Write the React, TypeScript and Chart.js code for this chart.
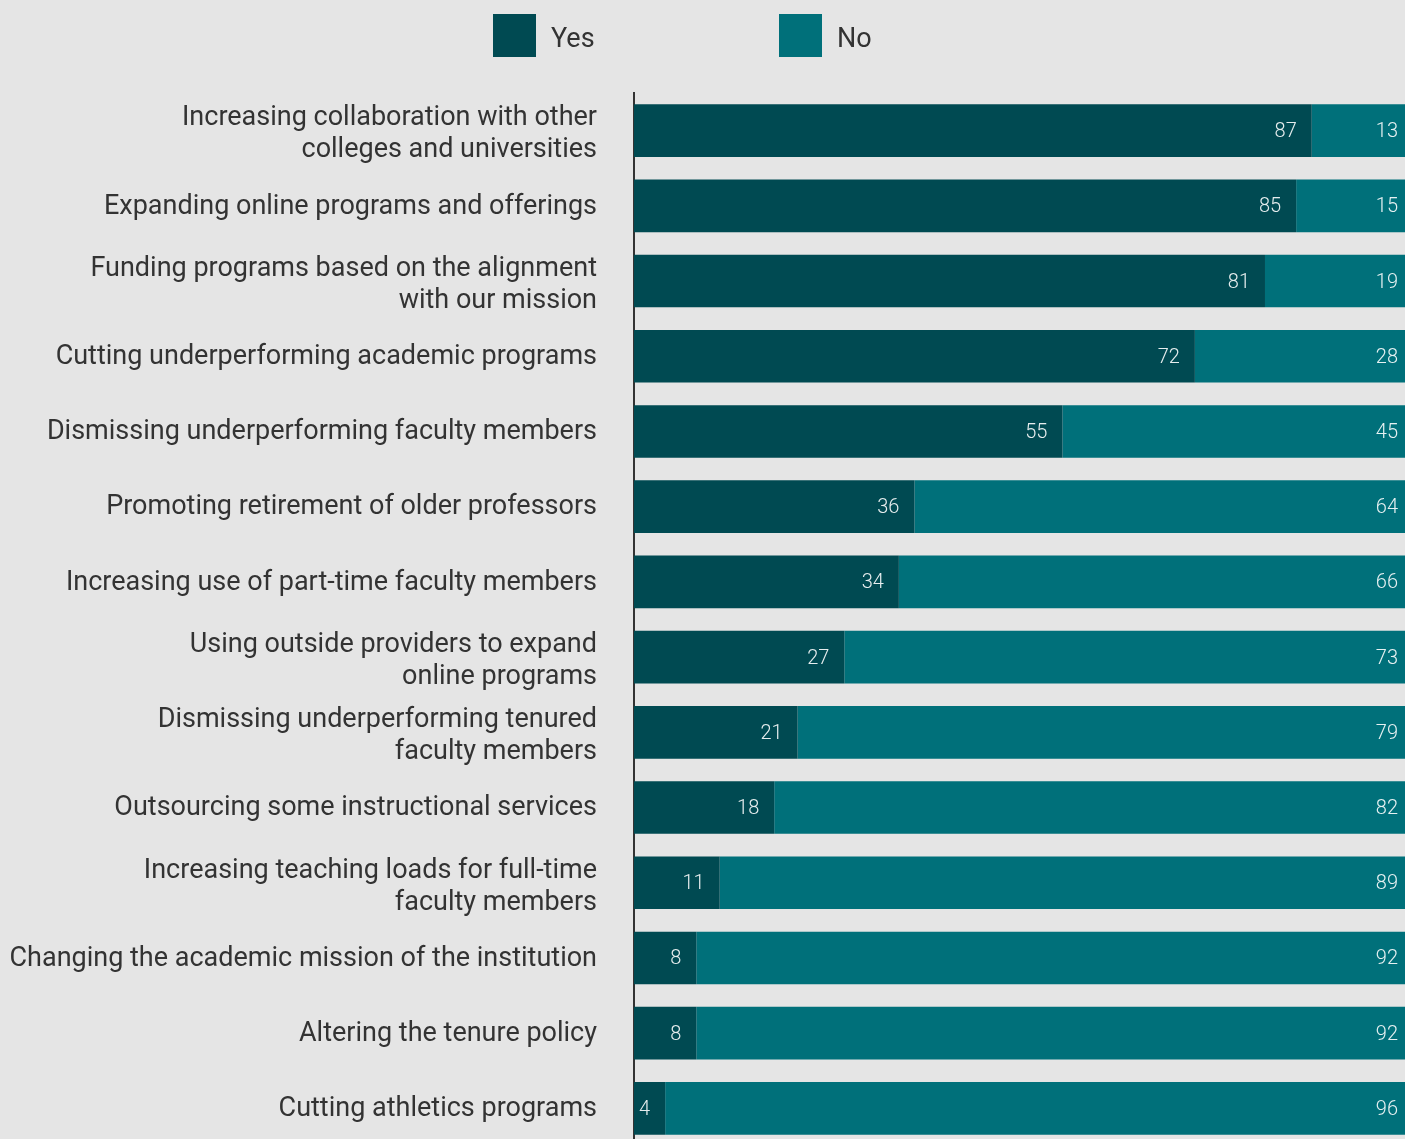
import React, { useEffect, useRef } from "react";
import { Chart, registerables } from "chart.js";

Chart.register(...registerables);

const categories: (string | string[])[] = [
  ["Increasing collaboration with other", "colleges and universities"],
  "Expanding online programs and offerings",
  ["Funding programs based on the alignment", "with our mission"],
  "Cutting underperforming academic programs",
  "Dismissing underperforming faculty members",
  "Promoting retirement of older professors",
  "Increasing use of part-time faculty members",
  ["Using outside providers to expand", "online programs"],
  ["Dismissing underperforming tenured", "faculty members"],
  "Outsourcing some instructional services",
  ["Increasing teaching loads for full-time", "faculty members"],
  "Changing the academic mission of the institution",
  "Altering the tenure policy",
  "Cutting athletics programs",
];

const yesValues = [87, 85, 81, 72, 55, 36, 34, 27, 21, 18, 11, 8, 8, 4];
const noValues = [13, 15, 19, 28, 45, 64, 66, 73, 79, 82, 89, 92, 92, 96];

const seriesNames = ["Yes", "No"];
const seriesColors = ["#004a52", "#00707a"];

const LABEL_PAD = 37;
const LABEL_LINE = 32;

const valueLabelPlugin = {
  id: "valueLabels",
  afterDatasetsDraw(chart: any) {
    const ctx = chart.ctx;
    ctx.save();
    ctx.font = "300 20px Roboto";
    ctx.fillStyle = "rgba(255,255,255,0.9)";
    ctx.textAlign = "right";
    ctx.textBaseline = "middle";
    chart.data.datasets.forEach((ds: any, di: number) => {
      const meta = chart.getDatasetMeta(di);
      meta.data.forEach((el: any, i: number) => {
        ctx.fillText(String(ds.data[i]), el.x - 15, el.y + 1.5);
      });
    });
    ctx.restore();
  },
};

const categoryLabelPlugin = {
  id: "categoryLabels",
  afterDraw(chart: any) {
    const scale = chart.scales.y;
    const ctx = chart.ctx;
    ctx.save();
    ctx.font = "27px Roboto";
    ctx.fillStyle = "#333333";
    ctx.textAlign = "right";
    ctx.textBaseline = "middle";
    categories.forEach((lab, i) => {
      const lines = Array.isArray(lab) ? lab : [lab];
      const n = lines.length;
      const cy = scale.getPixelForTick(i) + 1 + (n - 1) * 3;
      lines.forEach((line, j) => {
        ctx.fillText(line, scale.right - LABEL_PAD, cy + (j - (n - 1) / 2) * LABEL_LINE);
      });
    });
    ctx.restore();
  },
};

export default function App() {
  const ref = useRef<HTMLCanvasElement | null>(null);

  useEffect(() => {
    document.body.style.margin = "0";
    document.body.style.overflow = "hidden";
    document.body.style.background = "#e5e5e5";
    if (!ref.current) return;
    const chart = new Chart(ref.current, {
      type: "bar",
      data: {
        labels: categories,
        datasets: [
          {
            label: seriesNames[0],
            data: yesValues,
            backgroundColor: seriesColors[0],
            borderWidth: 0,
            barPercentage: 0.7,
            categoryPercentage: 1,
          },
          {
            label: seriesNames[1],
            data: noValues,
            backgroundColor: seriesColors[1],
            borderWidth: 0,
            barPercentage: 0.7,
            categoryPercentage: 1,
          },
        ],
      },
      options: {
        indexAxis: "y",
        animation: false,
        responsive: true,
        maintainAspectRatio: false,
        layout: { padding: { top: 93, bottom: 0, left: 0, right: 0 } },
        plugins: {
          legend: { display: false },
          tooltip: { enabled: false },
        },
        scales: {
          x: {
            stacked: true,
            min: 0,
            max: 100,
            display: false,
          },
          y: {
            stacked: true,
            grid: { display: false, drawTicks: false },
            border: { display: true, color: "#333333", width: 2 },
            ticks: {
              color: "rgba(0,0,0,0)",
              padding: LABEL_PAD,
              font: { family: "Roboto", size: 27, lineHeight: 1.185 },
            },
            afterFit(scale: any) {
              scale.width = 634;
              scale.paddingTop = 0;
              scale.paddingBottom = 0;
            },
          },
        },
      },
      plugins: [valueLabelPlugin, categoryLabelPlugin],
    });
    return () => chart.destroy();
  }, []);

  return (
    <div
      style={{
        position: "relative",
        width: 1413,
        height: 1146,
        background: "#e5e5e5",
        fontFamily: "Roboto",
        color: "#333333",
      }}
    >
      {seriesNames.map((name, i) => (
        <div
          key={name}
          style={{
            position: "absolute",
            top: 14,
            left: 493 + i * 286,
            display: "flex",
            alignItems: "center",
            height: 43,
          }}
        >
          <div style={{ width: 43, height: 43, background: seriesColors[i] }} />
          <span style={{ marginLeft: 15, fontSize: 27, lineHeight: "43px", position: "relative", top: 3 }}>{name}</span>
        </div>
      ))}
      <canvas ref={ref} />
    </div>
  );
}
